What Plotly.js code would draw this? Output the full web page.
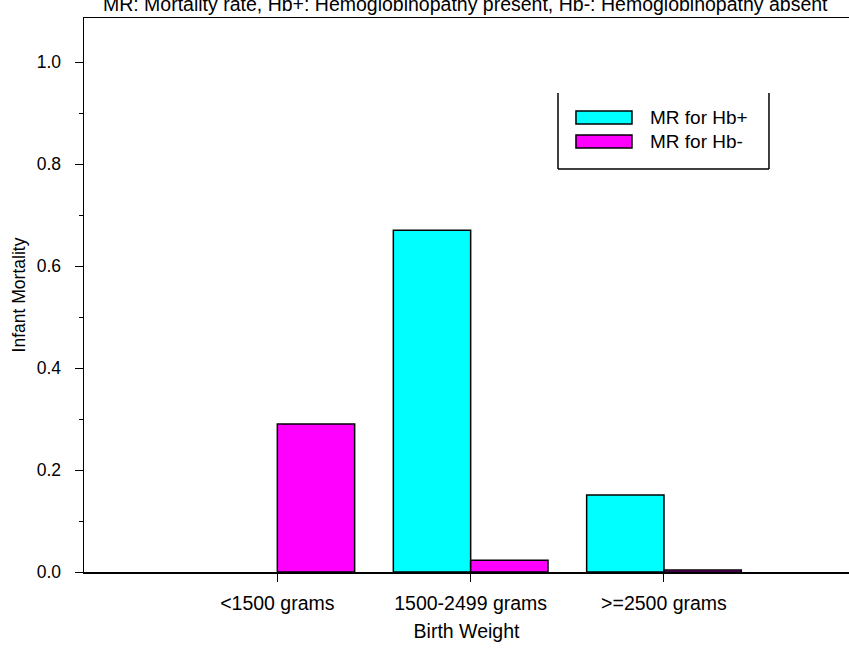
<!DOCTYPE html>
<html>
<head>
<meta charset="utf-8">
<script src="https://cdn.plot.ly/plotly-3.0.1.min.js"></script>
<style>html,body{margin:0;padding:0;background:#fff;overflow:hidden;}</style>
</head>
<body>
<div id="chart" style="width:849px;height:648px;"></div>
<script>
// Data
const categories = ["<1500 grams", "1500-2499 grams", ">=2500 grams"];
const seriesNames = ["MR for Hb+", "MR for Hb-"];
const mrHbPlus = [0, 0.67, 0.151];
const mrHbMinus = [0.29, 0.023, 0.004];
const seriesColors = ["#00FFFF", "#FF00FF"];
const yTickVals = [0, 0.2, 0.4, 0.6, 0.8, 1.0];
const yTickText = ["0.0", "0.2", "0.4", "0.6", "0.8", "1.0"];
const chartTitle = "MR: Mortality rate, Hb+: Hemoglobinopathy present, Hb-: Hemoglobinopathy absent";

const FONT = "Liberation Sans, Arial, sans-serif";
const seriesValues = [mrHbPlus, mrHbMinus];

const traces = seriesValues.map((vals, i) => ({
  type: "bar",
  x: categories,
  y: vals,
  name: seriesNames[i],
  marker: {color: seriesColors[i], line: {color: "#000", width: vals.map(v => v > 0 ? 1.5 : 0)}},
  hoverinfo: "none"
}));

// Manual legend (box open at top, swatches + labels)
const L = {x0: 0.6196, x1: 0.8954, y0: 0.7274, y1: 0.8646};
const shapes = [
  {type: "line", xref: "paper", yref: "paper", x0: L.x0, x1: L.x0, y0: L.y0, y1: L.y1, line: {color: "#000", width: 1.5}},
  {type: "line", xref: "paper", yref: "paper", x0: L.x1, x1: L.x1, y0: L.y0, y1: L.y1, line: {color: "#000", width: 1.5}},
  {type: "line", xref: "paper", yref: "paper", x0: L.x0, x1: L.x1, y0: L.y0, y1: L.y0, line: {color: "#000", width: 1.5}}
];
const annotations = [];
const swY = [[0.8087, 0.8321], [0.7653, 0.7888]];
seriesNames.forEach((nm, i) => {
  shapes.push({type: "rect", xref: "paper", yref: "paper", x0: 0.6431, x1: 0.7163,
    y0: swY[i][0], y1: swY[i][1], fillcolor: seriesColors[i], line: {color: "#000", width: 1.5}});
  annotations.push({xref: "paper", yref: "paper", x: 0.7375, y: (swY[i][0] + swY[i][1]) / 2,
    xanchor: "left", yanchor: "middle", text: nm, showarrow: false,
    font: {family: FONT, size: 19, color: "#000"}});
});

const layout = {
  width: 849, height: 648,
  margin: {l: 84, r: 0, t: 18, b: 76},
  paper_bgcolor: "#fff", plot_bgcolor: "#fff",
  font: {family: FONT, size: 17, color: "#000"},
  title: {text: chartTitle, font: {family: FONT, size: 19.5, color: "#000"},
          x: 0.548, xanchor: "center", y: 0.993, yanchor: "middle", yref: "container"},
  showlegend: false,
  barmode: "group", bargap: 0.2, bargroupgap: 0,
  xaxis: {
    type: "category", range: [-1, 2.957],
    showline: true, linecolor: "#000", linewidth: 1.5, mirror: true,
    ticks: "outside", ticklen: 8, tickcolor: "#000", tickwidth: 1,
    tickson: "labels", showgrid: false, zeroline: false,
    tickfont: {family: FONT, size: 19.5, color: "#000"},
    ticklabelstandoff: 5,
    title: {text: "Birth Weight", font: {family: FONT, size: 19.5, color: "#000"}, standoff: 11}
  },
  yaxis: {
    range: [0, 1.0863],
    showline: true, linecolor: "#000", linewidth: 1.5, mirror: false,
    ticks: "outside", ticklen: 8, tickcolor: "#000", tickwidth: 1,
    tickvals: yTickVals, ticktext: yTickText,
    minor: {dtick: 0.1, ticklen: 4, tickcolor: "#000", ticks: "outside", showgrid: false},
    showgrid: false, zeroline: false,
    tickfont: {family: FONT, size: 17.5, color: "#000"},
    ticklabelstandoff: 10,
    title: {text: "Infant Mortality", font: {family: FONT, size: 17.5, color: "#000"}, standoff: 6}
  },
  shapes: shapes,
  annotations: annotations
};

Plotly.newPlot("chart", traces, layout, {staticPlot: true, displayModeBar: false});
</script>
</body>
</html>
